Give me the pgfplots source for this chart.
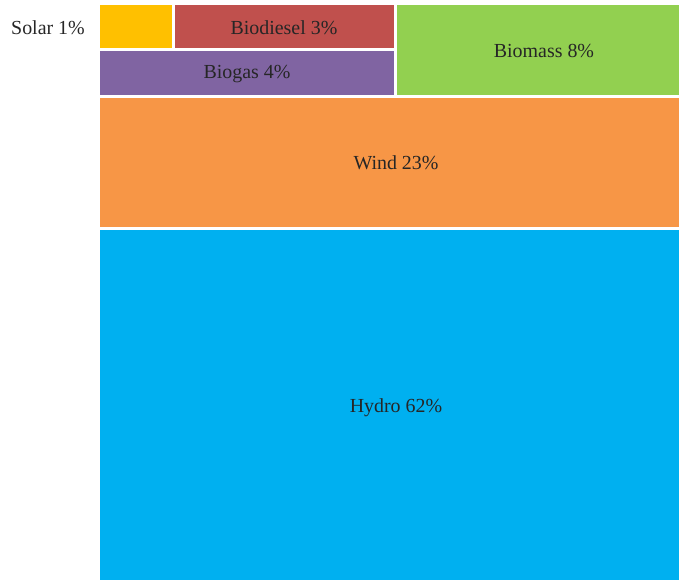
\documentclass[border=0pt]{standalone}
\usepackage{pgfplots}
\pgfplotsset{compat=1.18}
\usepackage{fontspec}
\setmainfont{Liberation Serif}
\definecolor{csolar}{HTML}{FFC000}
\definecolor{cbiodiesel}{HTML}{C0504D}
\definecolor{cbiogas}{HTML}{8064A2}
\definecolor{cbiomass}{HTML}{92D050}
\definecolor{cwind}{HTML}{F79646}
\definecolor{chydro}{HTML}{00B0F0}
\tikzset{lbl/.style={font=\fontsize{15}{18}\selectfont, text=black!85, inner sep=0pt}}
\begin{document}
\begin{tikzpicture}
\begin{axis}[
  hide axis,
  scale only axis,
  width=509.25bp, height=435bp,
  xmin=0, xmax=679, ymin=0, ymax=580,
  y dir=reverse,
  clip=false,
]
% treemap tiles (share of renewable generation)
\addplot[draw=none, fill=csolar]     coordinates {(100,5)(172,5)(172,48)(100,48)};
\addplot[draw=none, fill=cbiodiesel] coordinates {(175,5)(394,5)(394,48)(175,48)};
\addplot[draw=none, fill=cbiogas]    coordinates {(100,51)(394,51)(394,95)(100,95)};
\addplot[draw=none, fill=cbiomass]   coordinates {(397,5)(679,5)(679,95)(397,95)};
\addplot[draw=none, fill=cwind]      coordinates {(100,98)(679,98)(679,227)(100,227)};
\addplot[draw=none, fill=chydro]     coordinates {(100,230)(679,230)(679,580)(100,580)};

\node[lbl] at (axis cs:48,28)    {Solar 1\%};
\node[lbl] at (axis cs:284,28)   {Biodiesel 3\%};
\node[lbl] at (axis cs:247,74)   {Biogas 4\%};
\node[lbl] at (axis cs:544,51)   {Biomass 8\%};
\node[lbl] at (axis cs:396,163)  {Wind 23\%};
\node[lbl] at (axis cs:396,408)  {Hydro 62\%};

\path (axis cs:0,0) rectangle (axis cs:679,580);
\end{axis}
\end{tikzpicture}
\end{document}
